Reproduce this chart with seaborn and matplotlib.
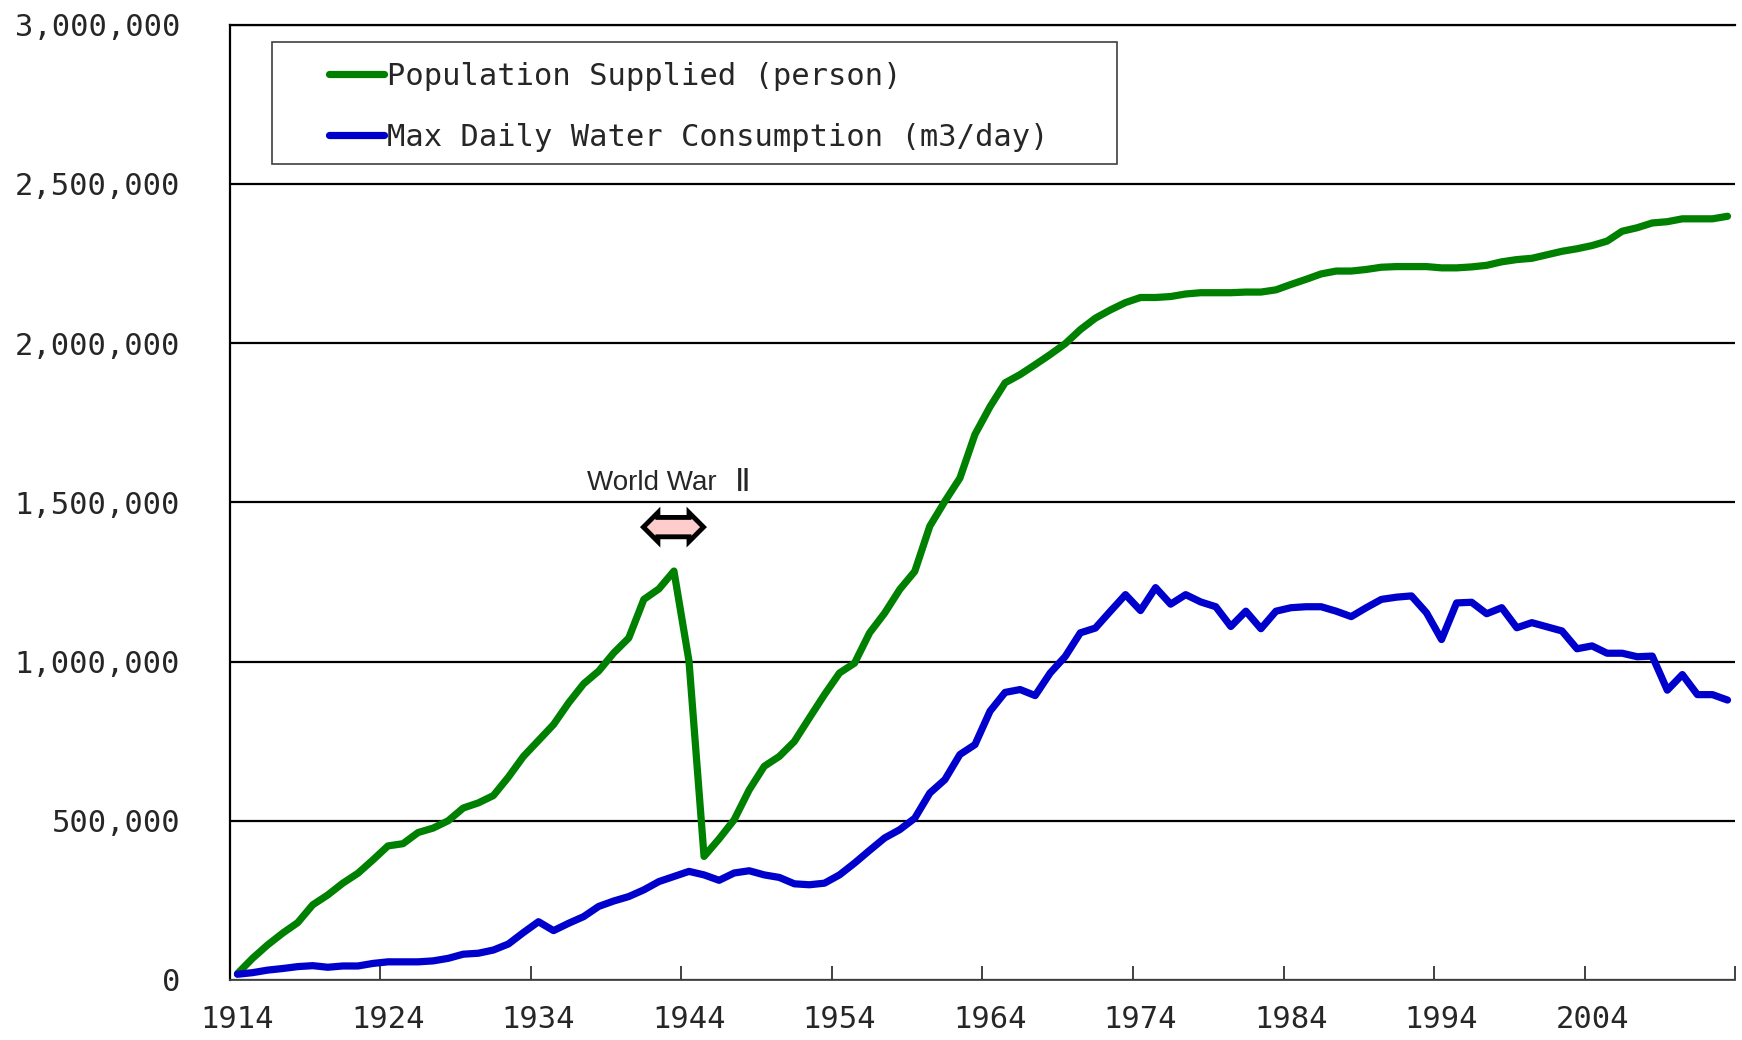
import numpy as np
import pandas as pd
import matplotlib
matplotlib.use("Agg")
import matplotlib.pyplot as plt
from matplotlib.lines import Line2D
from matplotlib.patches import Rectangle
from matplotlib.ticker import FuncFormatter, FixedLocator
import seaborn as sns

# data (thousands)
years = list(range(1914, 2014))
population_k = [20, 68, 110, 147, 180, 236, 267, 304, 335, 377,
                421, 428, 463, 477, 500, 540, 556, 579, 637, 702,
                752, 802, 870, 930, 970, 1027, 1074, 1195, 1228, 1284,
                1001, 388, 443, 503, 597, 671, 702, 749, 823, 896,
                964, 995, 1090, 1152, 1226, 1283, 1425, 1503, 1576, 1713,
                1800, 1875, 1901, 1932, 1964, 1998, 2042, 2078, 2104, 2127,
                2143, 2143, 2146, 2154, 2158, 2158, 2158, 2160, 2160, 2167,
                2184, 2200, 2217, 2226, 2226, 2231, 2238, 2240, 2240, 2240,
                2236, 2236, 2239, 2244, 2255, 2262, 2266, 2277, 2288, 2296,
                2306, 2320, 2351, 2362, 2377, 2381, 2390, 2390, 2390, 2398]
water_k = [18, 23, 31, 36, 42, 45, 40, 44, 44, 52,
           57, 57, 57, 60, 68, 81, 84, 94, 113, 149,
           183, 155, 178, 199, 231, 248, 262, 283, 309, 325,
           341, 330, 313, 336, 343, 330, 322, 302, 299, 304,
           330, 367, 407, 446, 472, 508, 587, 629, 708, 739,
           844, 903, 912, 893, 964, 1016, 1090, 1105, 1158, 1210,
           1160, 1232, 1180, 1210, 1187, 1172, 1110, 1158, 1103, 1158,
           1169, 1172, 1172, 1158, 1141, 1169, 1195, 1202, 1206, 1153,
           1069, 1184, 1186, 1150, 1169, 1106, 1122, 1109, 1096, 1040,
           1049, 1026, 1026, 1015, 1017, 910, 959, 896, 896, 879]
series_names = ["Population Supplied (person)", "Max Daily Water Consumption (m3/day)"]
series_colors = ["#008000", "#0000CC"]
label_years = list(range(1914, 2014, 10))
y_ticks = list(range(0, 3000001, 500000))

df = pd.DataFrame({"year": years,
                   series_names[0]: np.array(population_k) * 1000,
                   series_names[1]: np.array(water_k) * 1000})
dfLong = df.melt(id_vars="year", var_name="series", value_name="value")

sns.set_theme(style="white")
plt.rcParams["font.family"] = ["DejaVu Sans Mono"]
fs = 22
lw = 5.2

fig = plt.figure(figsize=(17.42, 10.40), dpi=100)
ax = fig.add_axes([0.132, 0.0577, 0.864, 0.9187])

sns.lineplot(data=dfLong, x="year", y="value", hue="series", hue_order=series_names,
             palette=series_colors, linewidth=lw, legend=False, ax=ax,
             solid_joinstyle="round", solid_capstyle="round")

ax.set_xlim(1913.5, 2013.5)
ax.set_ylim(0, 3000000)
ax.set_xlabel("")
ax.set_ylabel("")

# labels centred on categories, tick marks on the category boundaries
ax.set_xticks(label_years)
ax.set_xticklabels([str(y) for y in label_years], fontsize=fs)
ax.xaxis.set_minor_locator(FixedLocator([y - 0.5 for y in range(1914, 2015, 10)]))
ax.tick_params(axis="x", which="major", length=0, pad=18)
ax.tick_params(axis="x", which="minor", direction="in", length=10, width=1.3, color="#333333", bottom=True)

ax.set_yticks(y_ticks)
ax.yaxis.set_major_formatter(FuncFormatter(lambda v, p: "{:,}".format(int(v))))
ax.tick_params(axis="y", length=0, pad=36, labelsize=fs)

ax.grid(axis="y", color="black", linewidth=1.6)
ax.grid(axis="x", visible=False)
ax.set_axisbelow(True)

for side in ["left", "top"]:
    ax.spines[side].set_color("black")
    ax.spines[side].set_linewidth(1.6)
ax.spines["bottom"].set_color("#444444")
ax.spines["bottom"].set_linewidth(1.3)
ax.spines["right"].set_visible(False)

# legend with its own frame
handles = [Line2D([0], [0], color=c, lw=lw, solid_capstyle="round") for c in series_colors]
fig.patches.append(Rectangle((0.156, 0.8423), 0.485, 0.1173, transform=fig.transFigure,
                             fill=False, edgecolor="#404040", linewidth=1.2))
ax.legend(handles, series_names, loc="upper left", bbox_to_anchor=(0.1889, 0.9405),
          bbox_transform=fig.transFigure, frameon=False, fontsize=fs, borderpad=0,
          borderaxespad=0, handlelength=1.8, handletextpad=0.1, labelspacing=1.05)

# World War II note
ax.text(1937.2, 1560000, "World War", ha="left", va="center", fontsize=20,
        family=["Liberation Sans", "DejaVu Sans"])
ax.text(1947.6, 1562000, "\u2161", ha="center", va="center", fontsize=23,
        family=["DejaVu Sans", "Noto Sans CJK JP"])
ax.text(1942.9, 1422000, "MMM", ha="center", va="center", fontsize=10.5, color="#FFCCCC",
        family="DejaVu Sans",
        bbox=dict(boxstyle="darrow,pad=0.15", fc="#FFCCCC", ec="black", lw=3.5))

fig.savefig("out.png", dpi=100)
